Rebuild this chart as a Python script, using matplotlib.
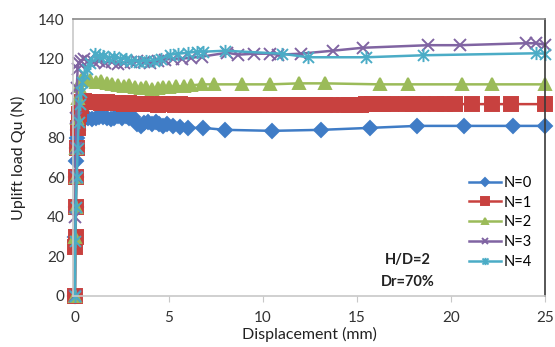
import matplotlib
matplotlib.use("Agg")
import matplotlib.pyplot as plt
from matplotlib.path import Path

plt.rcParams["font.family"] = ["Lato", "DejaVu Sans"]

# N=0
x0 = [0, 0.02, 0.04, 0.06, 0.08, 0.1, 0.12, 0.15, 0.2, 0.25, 0.3, 0.4, 0.5, 0.7, 0.9,
      1.1, 1.3, 1.5, 1.7, 1.9, 2.1, 2.3, 2.5, 2.7, 2.9, 3.1, 3.3, 3.5, 3.7, 3.9, 4.1,
      4.3, 4.5, 4.7, 4.9, 5.2, 5.6, 6.0, 6.8, 8.0, 10.5, 13.1, 15.7, 18.2, 20.7, 23.3, 25]
y0 = [0, 30, 45, 60, 68, 75, 80, 84, 87, 89, 90, 91, 90, 90, 89.5,
      90, 90.5, 90.5, 90, 89.5, 90, 91, 90, 91, 90, 90.5, 87, 86, 87.5, 88, 87,
      88, 87, 86, 87, 86, 85.5, 85, 85, 84, 83.5, 84, 85, 86, 86, 86, 86]

# N=1
x1 = [0, 0.02, 0.04, 0.06, 0.08, 0.1, 0.15, 0.2, 0.3, 0.4, 0.5, 0.8, 1.1, 1.4, 1.7,
      2.0, 2.3, 2.6, 2.9, 3.2, 3.5, 3.8, 4.1, 4.4, 4.7, 5.0, 5.3, 5.6, 5.9, 6.2,
      6.5, 6.8, 7.1, 7.4, 7.7, 8.0, 8.3, 8.6, 8.9, 9.2, 9.5, 9.8, 10.6, 10.9, 11.2,
      11.5, 11.8, 12.1, 12.4, 12.7, 13.0, 13.3, 13.6, 14.3, 14.6, 14.9, 15.2, 15.5,
      15.8, 16.1, 16.4, 16.8, 17.6, 18.0, 18.5, 19.2, 19.7, 20.2, 21.1, 22.2, 23.2, 25]
y1 = [0, 25, 30, 45, 60, 75, 85, 92, 96, 98, 98.5, 98, 98, 97.5, 98,
      97.5, 97.5, 97, 97.5, 97, 97, 97, 97, 96.5, 97, 97, 96.5, 97, 96.5, 96.5,
      96.5, 96.5, 96.5, 96.5, 96.5, 96.5, 96.5, 96.5, 96.5, 96.5, 96.5, 96.5, 96.5, 96.5, 96.5,
      96.5, 96.5, 96.5, 96.5, 96.5, 96.5, 96.5, 96.5, 96.5, 96.5, 96.5, 96.5, 97,
      97, 97, 97, 97, 97, 97, 97, 97, 97, 97, 97, 97, 97, 97]

# N=2
x2 = [0, 0.02, 0.04, 0.06, 0.08, 0.1, 0.15, 0.2, 0.3, 0.5, 0.8, 1.1, 1.4, 1.7, 2.0,
      2.3, 2.6, 2.9, 3.2, 3.5, 3.8, 4.1, 4.4, 4.7, 5.0, 5.4, 5.8, 6.2, 6.75, 7.4,
      8.9, 10.4, 11.9, 13.3, 16.2, 17.7, 20.6, 22.2, 25]
y2 = [0, 30, 45, 60, 75, 90, 100, 106, 109, 110, 109, 108, 108.5, 107.5, 107,
      106.5, 106, 106.5, 105.5, 105, 105.5, 104.5, 105, 105.5, 105.5, 106, 106, 106.5, 107, 107,
      107, 107, 107.5, 107.5, 107, 107, 107, 107, 107]

# N=3
x3 = [0, 0.02, 0.04, 0.06, 0.08, 0.1, 0.15, 0.2, 0.3, 0.5, 0.7, 1.0, 1.3, 1.6, 2.0,
      2.3, 2.6, 3.0, 3.3, 3.7, 4.0, 4.4, 4.8, 5.2, 5.7, 6.2, 6.75, 8.1, 8.7, 9.5,
      10.4, 10.8, 12.0, 13.7, 15.3, 18.8, 20.5, 24.0, 24.5, 25]
y3 = [0, 40, 60, 75, 90, 105, 115, 118, 119, 120, 119, 118.5, 119, 118, 118.5,
      117.5, 118, 118.5, 119, 118.5, 118, 119, 119.5, 120, 120, 120.5, 121, 123, 122, 122.5,
      122.5, 122, 122.5, 124, 125.5, 126.8, 126.8, 127.8, 127.8, 127]

# N=4
x4 = [0, 0.02, 0.05, 0.1, 0.15, 0.2, 0.25, 0.3, 0.4, 0.5, 0.65, 0.8, 1.06, 1.3, 1.5,
      1.8, 2.1, 2.4, 2.7, 3.0, 3.4, 3.8, 4.2, 4.6, 5.05, 5.5, 6.0, 6.5, 6.8, 8.0,
      11.0, 12.4, 15.5, 18.5, 24.5, 25]
y4 = [0, 28, 45, 60, 75, 88, 97, 103, 108, 112, 115, 118, 122.5, 121.5, 121.5,
      120.5, 121, 120, 120, 119, 118.5, 119, 119, 120, 122, 122.5, 123, 123.5, 123.5, 124,
      122.5, 120.7, 120.7, 121.7, 122.7, 122.5]

labels = ["N=0", "N=1", "N=2", "N=3", "N=4"]
colors = ["#3F7CC6", "#C8413F", "#9BBB59", "#8064A2", "#4BACC6"]

# asterisk marker: x-cross plus vertical bar
ast = Path([(-1, -1), (1, 1), (-1, 1), (1, -1), (0, -1.2), (0, 1.2)],
           [Path.MOVETO, Path.LINETO, Path.MOVETO, Path.LINETO, Path.MOVETO, Path.LINETO])
markers = ["D", "s", "^", "x", ast]
msizes = [7.5, 9.5, 8.5, 9, 9.5]

fig = plt.figure(figsize=(5.55, 3.47), dpi=100)
ax = fig.add_axes([0.1315, 0.147, 0.8505, 0.798])

series = [(x0, y0), (x1, y1), (x2, y2), (x3, y3), (x4, y4)]
for (xs, ys), lab, c, m, ms in zip(series, labels, colors, markers, msizes):
    ax.plot(xs, ys, color=c, lw=1.8, marker=m, ms=ms, mec=c, mfc=c, mew=1.4,
            label=lab, clip_on=False)

ax.set_xlim(-0.1, 25)
ax.set_ylim(0, 140)
ax.set_xticks([0, 5, 10, 15, 20, 25])
ax.set_yticks(range(0, 141, 20))

ax.spines["top"].set_color("#8a8a8a")
ax.spines["right"].set_color("#3a3a3a")
ax.spines["left"].set_color("#c8c8c8")
ax.spines["bottom"].set_color("#c8c8c8")
for s in ax.spines.values():
    s.set_linewidth(1.2)
ax.tick_params(axis="x", colors="#c8c8c8", labelcolor="#333333", length=4, labelsize=11, pad=7)
ax.tick_params(axis="y", colors="#c8c8c8", labelcolor="#333333", length=0, labelsize=11, pad=6)

ax.set_xlabel("Displacement (mm)", fontsize=11.5, color="#222222", labelpad=1)
ax.set_ylabel("Uplift load Qu (N)", fontsize=11.5, color="#222222", labelpad=9)

ax.text(17.7, 18, "H/D=2", fontsize=10.5, fontweight="bold", ha="center", va="center", color="#222222")
ax.text(17.7, 7, "Dr=70%", fontsize=10.5, fontweight="bold", ha="center", va="center", color="#222222")

ax.legend(loc="lower right", bbox_to_anchor=(1.0, 0.05), frameon=False, fontsize=10.5,
          handlelength=2.2, handletextpad=0.2, labelspacing=0.4, markerscale=0.55)

fig.savefig("out.png", dpi=100)
